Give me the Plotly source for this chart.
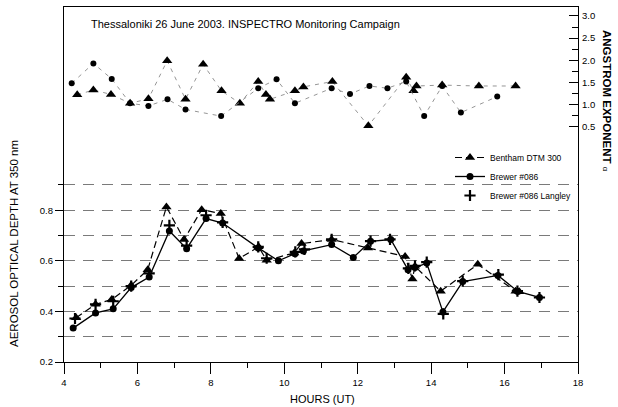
import plotly.graph_objects as go

# ---- AOD at 350 nm (left axis) ----
bentham_hours = [4.33, 4.86, 5.30, 5.83, 6.28, 6.79, 7.27, 7.75, 8.27, 8.77, 9.30, 9.52,
                 10.27, 10.47, 11.29, 12.28, 13.29, 13.49, 13.56, 14.26, 15.27, 16.30, 16.40]
bentham_aod = [0.375, 0.428, 0.447, 0.503, 0.565, 0.813, 0.684, 0.802, 0.787, 0.609, 0.655, 0.602,
               0.631, 0.668, 0.684, 0.651, 0.617, 0.528, 0.578, 0.480, 0.586, 0.480, 0.478]

brewer_hours = [4.25, 4.86, 5.34, 5.83, 6.32, 6.87, 7.34, 7.87, 8.32, 9.29, 9.84, 10.29, 10.52,
                11.29, 11.88, 12.35, 12.90, 13.37, 13.56, 13.88, 14.32, 14.86, 15.82, 16.36, 16.95]
brewer_aod = [0.334, 0.394, 0.410, 0.494, 0.536, 0.718, 0.648, 0.767, 0.749, 0.651, 0.600, 0.628, 0.639,
              0.664, 0.613, 0.677, 0.684, 0.565, 0.573, 0.591, 0.398, 0.518, 0.542, 0.479, 0.455]

langley_hours = [4.30, 4.86, 5.34, 5.83, 6.32, 6.87, 7.34, 7.87, 8.32, 9.29, 9.52, 10.30, 10.55,
                 11.29, 12.35, 12.88, 13.38, 13.56, 13.88, 14.33, 14.86, 15.83, 16.35, 16.95]
langley_aod = [0.372, 0.428, 0.440, 0.500, 0.550, 0.740, 0.660, 0.780, 0.752, 0.655, 0.610, 0.635, 0.645,
               0.685, 0.678, 0.685, 0.570, 0.580, 0.595, 0.390, 0.520, 0.545, 0.480, 0.455]

# ---- Angstrom exponent (right axis) ----
bentham_alpha_hours = [4.36, 4.80, 5.28, 5.80, 6.30, 6.81, 7.31, 7.79, 8.29, 8.79, 9.29, 9.50, 9.61,
                       10.29, 10.52, 11.31, 12.29, 13.32, 13.52, 13.60, 14.30, 15.30, 16.30]
bentham_alpha = [1.22, 1.33, 1.23, 1.03, 1.13, 1.99, 1.12, 1.91, 1.31, 1.03, 1.52, 1.23, 1.12,
                 1.31, 1.40, 1.52, 0.52, 1.62, 1.31, 1.42, 1.44, 1.42, 1.42]

brewer_alpha_hours = [4.21, 4.80, 5.30, 5.80, 6.30, 6.82, 7.31, 8.28, 9.29, 9.79, 10.29, 11.29, 11.79,
                      12.32, 12.81, 13.32, 13.81, 14.30, 14.81, 15.80]
brewer_alpha = [1.48, 1.93, 1.58, 1.03, 0.97, 1.12, 0.89, 0.74, 1.37, 1.57, 1.03, 1.37, 1.24,
                1.42, 1.37, 1.52, 0.74, 1.42, 0.82, 1.18]

x_ticks = [4, 6, 8, 10, 12, 14, 16, 18]
x_minor = [5, 7, 9, 11, 13, 15, 17]
aod_ticks = [0.2, 0.4, 0.6, 0.8]
aod_minor = [0.3, 0.5, 0.7, 0.9]
alpha_ticks = [0.5, 1.0, 1.5, 2.0, 2.5, 3.0]
alpha_minor = [0.75, 1.25, 1.75, 2.25, 2.75]

FONT = "Liberation Sans, Arial, sans-serif"

fig = go.Figure()

# upper (Angstrom) series - thin gray dotted connectors
fig.add_trace(go.Scatter(x=bentham_alpha_hours, y=bentham_alpha, yaxis="y2", mode="lines+markers",
                         line=dict(color="#8a8a8a", width=0.9, dash="4px,5px"),
                         marker=dict(symbol="triangle-up", size=9, color="black"),
                         showlegend=False))
fig.add_trace(go.Scatter(x=brewer_alpha_hours, y=brewer_alpha, yaxis="y2", mode="lines+markers",
                         line=dict(color="#8a8a8a", width=0.9, dash="4px,5px"),
                         marker=dict(symbol="circle", size=6, color="black"),
                         showlegend=False))

# lower (AOD) series
fig.add_trace(go.Scatter(x=bentham_hours, y=bentham_aod, mode="lines+markers", name="Bentham DTM 300",
                         line=dict(color="black", width=1.2, dash="7px,4px"),
                         marker=dict(symbol="triangle-up", size=9, color="black"),
                         legendgroup="a"))
fig.add_trace(go.Scatter(x=brewer_hours, y=brewer_aod, mode="lines+markers", name="Brewer #086",
                         line=dict(color="black", width=1.3),
                         marker=dict(symbol="circle", size=7, color="black"),
                         legendgroup="a"))
fig.add_trace(go.Scatter(x=langley_hours, y=langley_aod, mode="markers", name="Brewer #086 Langley",
                         marker=dict(symbol="cross-thin", size=8, color="black",
                                     line=dict(color="black", width=2.2)),
                         legendgroup="b"))

fig.update_layout(
    width=618, height=407,
    margin=dict(l=64, r=40, t=7, b=45),
    paper_bgcolor="white", plot_bgcolor="white",
    font=dict(family=FONT, color="black", size=9),
    xaxis=dict(range=[4, 18], tickvals=x_ticks, ticks="outside", ticklen=11, tickwidth=1.2,
               tickcolor="black", showline=True, linecolor="black", linewidth=1.3, mirror=True,
               showgrid=False, zeroline=False, tickfont=dict(size=9.5),
               minor=dict(tickvals=x_minor, ticks="outside", ticklen=5, tickcolor="black",
                          showgrid=False)),
    yaxis=dict(range=[0.2, 1.603], tickvals=aod_ticks, tickformat=".1f", ticks="outside",
               ticklen=8, tickcolor="black", showline=True, linecolor="black", linewidth=1.3,
               mirror=True, zeroline=False, tickfont=dict(size=9.5),
               showgrid=True, gridcolor="#7a7a7a", gridwidth=1, griddash="11px,8px",
               minor=dict(tickvals=aod_minor, ticks="outside", ticklen=5, tickcolor="black",
                          showgrid=True, gridcolor="#7a7a7a", gridwidth=1, griddash="11px,8px")),
    yaxis2=dict(range=[-4.81, 3.203], overlaying="y", side="right", tickvals=alpha_ticks,
                tickformat=".1f", ticks="inside", ticklen=9, tickcolor="black",
                showline=False, showgrid=False, zeroline=False, tickfont=dict(size=9.5),
                ticklabelstandoff=3,
                minor=dict(tickvals=alpha_minor, ticks="inside", ticklen=6, tickcolor="black",
                           showgrid=False)),
    legend=dict(x=(450 - 64) / 514, y=(362 - 143) / 355, xanchor="left", yanchor="top",
                bgcolor="rgba(0,0,0,0)", font=dict(size=8.5), traceorder="grouped",
                tracegroupgap=0, itemwidth=30),
    annotations=[
        dict(text="Thessaloniki 26 June 2003. INSPECTRO Monitoring Campaign", xref="paper", yref="paper",
             x=(89 - 64) / 514, y=(362 - 24) / 355, xanchor="left", yanchor="middle",
             showarrow=False, font=dict(size=11)),
        dict(text="AEROSOL OPTICAL DEPTH AT 350 nm", xref="paper", yref="paper",
             x=(14 - 64) / 514, y=(362 - 244) / 355, xanchor="center", yanchor="middle",
             textangle=-90, showarrow=False, font=dict(size=11.5)),
        dict(text="<b>ANGSTROM EXPONENT</b> <span style='font-size:8px'>α</span>", xref="paper", yref="paper",
             x=(607 - 64) / 514, y=(362 - 101) / 355, xanchor="center", yanchor="middle",
             textangle=90, showarrow=False, font=dict(size=11.5)),
        dict(text="HOURS (UT)", xref="paper", yref="paper",
             x=(288 - 64) / 514, y=(362 - 399) / 355, xanchor="left", yanchor="middle",
             showarrow=False, font=dict(size=11)),
    ],
)

fig.write_html("out.html")
